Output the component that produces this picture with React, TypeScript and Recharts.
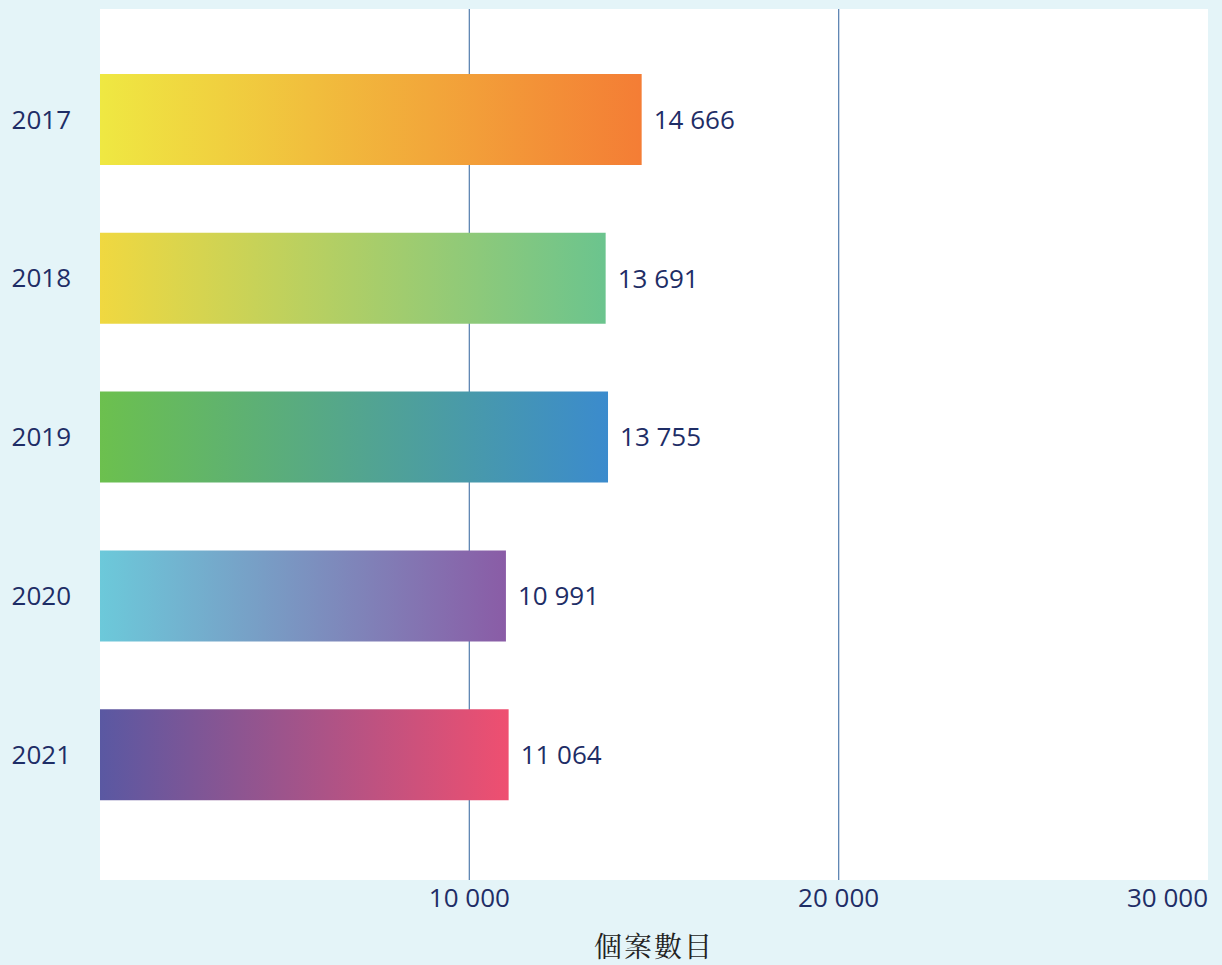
import { BarChart, Bar, XAxis, YAxis, CartesianGrid, LabelList, Cell, Label } from "recharts";

const years = ["2017", "2018", "2019", "2020", "2021"];
const caseCounts = [14666, 13691, 13755, 10991, 11064];
const axisTicks = [10000, 20000, 30000];
const gridTicks = [10000, 20000];

// gradient start / end per bar (left -> right)
const gradFrom = ["#efe842", "#f0d840", "#6cc04e", "#6cc9da", "#5a58a2"];
const gradTo = ["#f47d35", "#6bc48e", "#3b8bcd", "#8a5ca6", "#ef4f70"];

const NAVY = "#1e2d66";
const BG = "#e4f4f8";
const MAX = 30000;

const fmt = (v: number) => String(v).replace(/\B(?=(\d{3})+(?!\d))/g, " ");

const data = years.map((y, i) => ({ year: y, value: caseCounts[i] }));

function XTick(props: any) {
    const { x, y, payload, index } = props;
    const last = index === axisTicks.length - 1;
    return (
        <text x={x} y={y} dy={23} textAnchor={last ? "end" : "middle"} fill={NAVY}
            fontSize={26} fontFamily="'Open Sans', sans-serif">
            {fmt(payload.value)}
        </text>
    );
}

// vertical grid only at 10 000 and 20 000
const gridX = ({ xAxis, offset }: any) =>
    gridTicks.map((v) =>
        xAxis && typeof xAxis.scale === "function"
            ? xAxis.scale(v)
            : offset.left + (v / MAX) * offset.width
    );

export default function App() {
    return (
        <div style={{ width: 1222, height: 965, background: BG }}>
            <style>{`body{margin:0;background:${BG}}`}</style>
            <BarChart
                width={1222}
                height={965}
                data={data}
                layout="vertical"
                margin={{ top: 9, right: 14, left: 0, bottom: 0 }}
            >
                <defs>
                    {years.map((y, i) => (
                        <linearGradient key={y} id={`grad${i}`} x1="0" y1="0" x2="1" y2="0">
                            <stop offset="0%" stopColor={gradFrom[i]} />
                            <stop offset="100%" stopColor={gradTo[i]} />
                        </linearGradient>
                    ))}
                </defs>

                <CartesianGrid
                    fill="#ffffff"
                    horizontal={false}
                    verticalCoordinatesGenerator={gridX}
                    stroke="#5f86b3"
                    strokeWidth={1.3}
                />

                <XAxis
                    type="number"
                    domain={[0, MAX]}
                    ticks={axisTicks}
                    axisLine={false}
                    tickLine={false}
                    tickSize={0}
                    tickMargin={4}
                    tick={<XTick />}
                    height={85}
                    interval={0}
                >
                    <Label
                        value="個案數目"
                        position="insideBottom"
                        offset={8}
                        fill="#222"
                        fontSize={28}
                        letterSpacing={2}
                        fontFamily="'Noto Serif CJK TC', serif"
                    />
                </XAxis>

                <YAxis
                    type="category"
                    dataKey="year"
                    width={100}
                    axisLine={false}
                    tickLine={false}
                    tickSize={0}
                    tickMargin={29}
                    padding={{ top: 31, bottom: 46 }}
                    tick={{ fill: NAVY, fontSize: 26, fontFamily: "'Open Sans', sans-serif" }}
                />

                <Bar dataKey="value" barSize={91} isAnimationActive={false}>
                    {data.map((d, i) => (
                        <Cell key={d.year} fill={`url(#grad${i})`} />
                    ))}
                    <LabelList
                        dataKey="value"
                        position="right"
                        offset={12}
                        formatter={(v: any) => fmt(v)}
                        fill={NAVY}
                        fontSize={26}
                        fontFamily="'Open Sans', sans-serif"
                    />
                </Bar>
            </BarChart>
        </div>
    );
}
